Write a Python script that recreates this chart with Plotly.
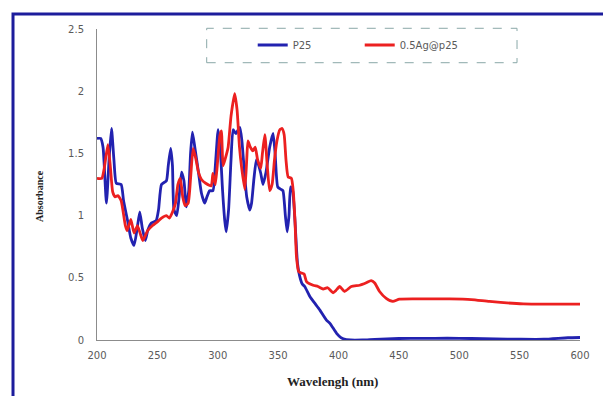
import plotly.graph_objects as go

# P25 spectrum
p25_nm = [200, 203, 205, 207.8, 210, 212, 214, 216, 220, 222, 225.7, 228, 230.7, 233, 235.4, 237.5,
          240, 242, 245, 249, 251, 253.4, 257.5, 259, 261, 262.5, 263.7, 266, 268, 270, 272, 274,
          276, 277.5, 279, 281, 284, 286.5, 289.2, 291, 293.3, 296, 298, 300.3, 302, 304, 305.8,
          307, 309, 311, 312.7, 315, 318.3, 320, 322.4, 324, 326.5, 328, 330, 332, 334, 335.6,
          337.5, 340, 343, 345.8, 347.5, 349.7, 352.5, 354, 356, 357.5, 359, 360.3, 362, 364,
          366, 367.7, 370, 372, 376.3, 380, 384.6, 390, 392.9, 398.4, 402, 404, 410, 420, 430,
          450, 470, 490, 510, 530, 550, 570, 590, 600]
p25_abs = [1.62, 1.62, 1.55, 1.10, 1.45, 1.70, 1.45, 1.26, 1.25, 1.12, 0.94, 0.82, 0.76, 0.88, 1.03, 0.90,
           0.80, 0.88, 0.94, 0.96, 1.05, 1.25, 1.28, 1.40, 1.54, 1.40, 1.05, 1.00, 1.15, 1.35, 1.28, 1.07,
           1.20, 1.50, 1.67, 1.55, 1.35, 1.18, 1.10, 1.15, 1.20, 1.20, 1.40, 1.69, 1.55, 1.20, 0.96,
           0.87, 1.05, 1.45, 1.69, 1.66, 1.71, 1.60, 1.31, 1.15, 1.045, 1.10, 1.30, 1.45, 1.40, 1.34,
           1.25, 1.35, 1.55, 1.66, 1.50, 1.23, 1.21, 1.20, 1.00, 0.87, 1.00, 1.23, 1.20, 0.95,
           0.62, 0.52, 0.45, 0.43, 0.35, 0.30, 0.24, 0.16, 0.134, 0.054, 0.02, 0.01, 0.0, 0.0, 0.005,
           0.012, 0.013, 0.014, 0.012, 0.008, 0.006, 0.006, 0.018, 0.02]

# 0.5Ag@p25 spectrum
ag_nm = [200, 204, 206, 209, 211, 213, 215, 217.3, 220, 223.5, 225, 228, 230.7, 233.5, 236, 238,
         242, 246, 250, 253.4, 257.5, 260, 263, 265, 267, 269, 271, 273, 275.5, 277.5, 279.6, 282,
         284, 286.5, 290, 294.6, 296, 298, 300, 301.7, 303, 304.4, 306, 308.6, 311, 314, 316, 318,
         319.6, 322.4, 324, 325, 327, 329, 331, 333, 335.6, 337, 339, 341, 343, 345, 347, 349,
         351.4, 353.3, 355, 356.5, 358.3, 361, 362.5, 364, 365.2, 367, 368.5, 371.5, 373.5, 379,
         383, 387.3, 391, 395.5, 398, 401, 405, 410.6, 417.5, 423, 427, 430, 434, 439.5, 445,
         450.5, 470, 492, 510, 525, 553, 575, 600]
ag_abs = [1.30, 1.30, 1.38, 1.57, 1.40, 1.19, 1.15, 1.16, 1.12, 0.92, 0.88, 0.97, 0.86, 0.92, 0.85, 0.80,
          0.88, 0.92, 0.95, 0.98, 1.00, 0.98, 1.04, 1.10, 1.25, 1.30, 1.15, 1.08, 1.10, 1.30, 1.54, 1.45,
          1.35, 1.29, 1.26, 1.24, 1.34, 1.25, 1.45, 1.64, 1.68, 1.40, 1.45, 1.55, 1.80, 1.98, 1.85, 1.55,
          1.40, 1.21, 1.45, 1.60, 1.55, 1.52, 1.55, 1.45, 1.38, 1.50, 1.65, 1.40, 1.20, 1.25, 1.45, 1.60,
          1.69, 1.70, 1.65, 1.45, 1.31, 1.30, 1.20, 0.95, 0.67, 0.55, 0.54, 0.53, 0.47, 0.44,
          0.43, 0.41, 0.42, 0.38, 0.40, 0.43, 0.39, 0.43, 0.44, 0.46, 0.478, 0.458, 0.39, 0.335, 0.31,
          0.328, 0.33, 0.33, 0.325, 0.31, 0.29, 0.288, 0.288]

x_ticks = [200, 250, 300, 350, 400, 450, 500, 550, 600]
y_ticks = [0, 0.5, 1, 1.5, 2, 2.5]
y_tick_text = ["0", "0.5", "1", "1.5", "2", "2.5"]

fig = go.Figure()
fig.add_trace(go.Scatter(x=p25_nm, y=p25_abs, mode="lines", name="P25",
                         line=dict(color="#2222b0", width=2.8, shape="spline", smoothing=0.5)))
fig.add_trace(go.Scatter(x=ag_nm, y=ag_abs, mode="lines", name="0.5Ag@p25",
                         line=dict(color="#ec2020", width=2.8, shape="spline", smoothing=0.5)))

tickfont = dict(family="DejaVu Sans", size=10, color="#5a5a5a")
fig.update_layout(
    width=603, height=396,
    margin=dict(l=97, r=23, t=29, b=56),
    paper_bgcolor="white", plot_bgcolor="white",
    showlegend=True,
    legend=dict(orientation="h", x=0.3224, y=0.9486, xanchor="left", yanchor="middle",
                font=dict(family="DejaVu Sans", size=10, color="#5a5a5a"),
                bgcolor="rgba(0,0,0,0)", borderwidth=0,
                entrywidth=62, entrywidthmode="pixels"),
    xaxis=dict(range=[200, 600], tickvals=x_ticks, showgrid=False, zeroline=False,
               showline=True, linecolor="#8c8c8c", linewidth=1, ticks="",
               tickfont=tickfont, ticklabelstandoff=6),
    yaxis=dict(range=[0, 2.5], tickvals=y_ticks, ticktext=y_tick_text, showgrid=False,
               zeroline=False, showline=True, linecolor="#8c8c8c", linewidth=1, ticks="",
               tickfont=tickfont, ticklabelstandoff=10),
    shapes=[
        dict(type="rect", xref="paper", yref="paper", x0=0.2271, x1=0.8696, y0=0.8916, y1=1.0023,
             line=dict(color="#8aa8a8", width=1, dash="dash")),
        dict(type="rect", xref="paper", yref="paper", x0=-0.1739, x1=1.10, y0=-0.25, y1=1.0482,
             line=dict(color="#1c1c9c", width=3)),
    ],
    annotations=[
        dict(text="<b>Wavelengh (nm)</b>", xref="paper", yref="paper", x=0.4886, y=-0.135,
             showarrow=False, xanchor="center", yanchor="middle",
             font=dict(family="Liberation Serif", size=13, color="#222")),
        dict(text="<b>Absorbance</b>", xref="paper", yref="paper", x=-0.120, y=0.463,
             showarrow=False, xanchor="center", yanchor="middle", textangle=-90,
             font=dict(family="Liberation Serif", size=10, color="#222")),
    ],
)

fig.write_html("out.html")
